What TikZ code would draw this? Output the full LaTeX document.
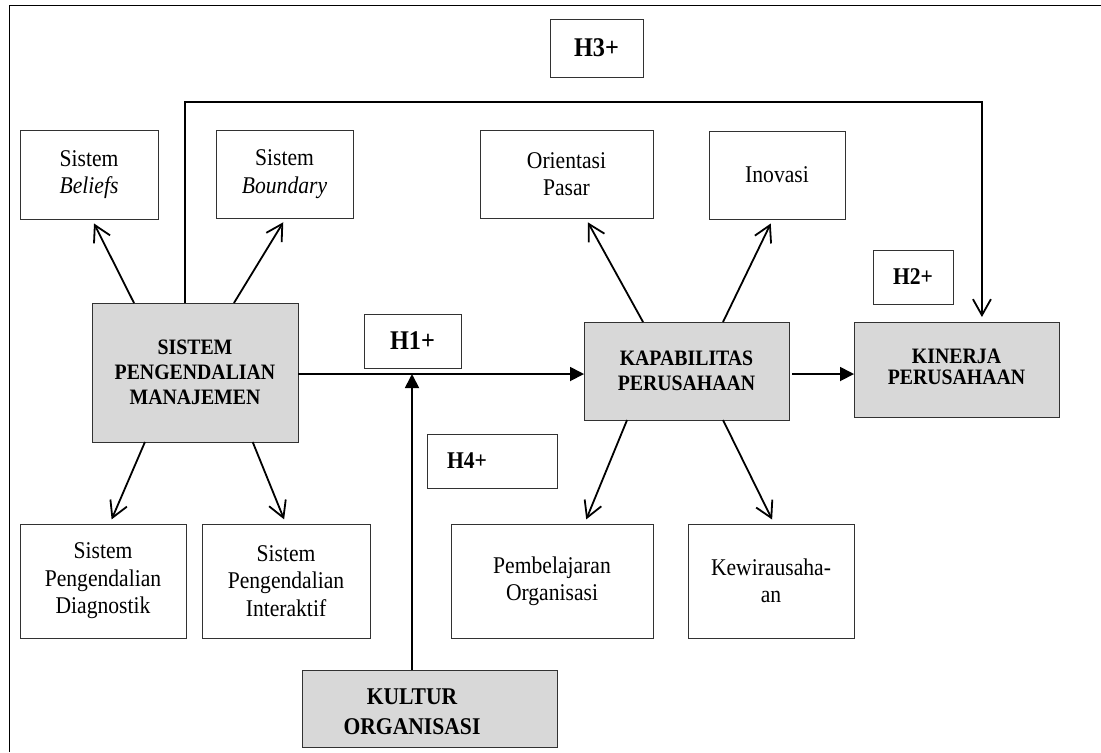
\documentclass[tikz,border=0pt]{standalone}
\usepackage{fontspec}
\setmainfont{Liberation Serif}[FakeStretch=0.9]
\usetikzlibrary{arrows.meta,calc}
\definecolor{boxfill}{RGB}{216,216,216}
\definecolor{boxline}{RGB}{50,50,50}
\tikzset{
  sz/.style 2 args={minimum width=#1*0.5pt, minimum height=#2*0.5pt},
  plainbox/.style={draw=boxline, line width=0.5pt, fill=white, inner sep=0pt,
    outer sep=0pt, align=center, font=\fontsize{12}{13.75}\selectfont},
  keybox/.style={plainbox, fill=boxfill, font=\fontsize{11}{12.5}\selectfont\bfseries},
  hypbox/.style={plainbox, font=\fontsize{12}{14}\selectfont\bfseries},
  bighyp/.style={hypbox, font=\fontsize{13.5}{15}\selectfont\bfseries},
  keytext/.style={inner sep=0pt, align=center, font=\fontsize{12}{15}\selectfont\bfseries},
  hyptext/.style={inner sep=0pt, align=center, font=\fontsize{12}{14}\selectfont\bfseries},
  openarrow/.style={-{Straight Barb[length=8pt,width=9pt]}, line width=0.9pt, shorten >=2.5pt},
  solidarrow/.style={-{Triangle[length=7pt,width=7pt]}, line width=0.9pt},
}
\begin{document}
\begin{tikzpicture}[x=0.5pt,y=-0.5pt]
\useasboundingbox (0,0) rectangle (1101,752);
% frame
\draw[line width=0.5pt] (9,752) -- (9,5) -- (1101,5);

% upper indicator boxes
\node[plainbox, sz={138}{89}] (bel) at (89,174.5) {Sistem\\\textit{Beliefs}};
\node[plainbox, sz={137}{88}] (bnd) at (284.5,174) {Sistem\\\textit{Boundary}};
\node[plainbox, sz={173}{88}] (ori) at (566.5,174) {Orientasi\\Pasar};
\node[plainbox, sz={136}{88}] (ino) at (777,175) {Inovasi};

% hypothesis labels
\node[bighyp, sz={93}{58}] (h3) at (596.5,48) {H3+};
\node[hypbox, sz={80}{54}] (h2) at (913,277) {H2+};
\node[bighyp, sz={97}{54}] (h1) at (412.5,341) {H1+};
\node[hypbox, sz={130}{54}] (h4) at (492,461) {};
\node[hyptext] (h4txt) at (467,461) {H4+};

% main constructs
\node[keybox, sz={206}{139}] (spm) at (195,372.5) {SISTEM\\PENGENDALIAN\\MANAJEMEN};
\node[keybox, sz={205}{98}] (kap) at (686.5,371) {KAPABILITAS\\PERUSAHAAN};
\node[keybox, sz={205}{95}] (kin) at (956.5,369.5) {\raisebox{2.5pt}{\shortstack{KINERJA\\PERUSAHAAN}}};
\node[keybox, sz={255}{77}] (kul) at (429.5,708.5) {};
\node[keytext] (kultxt) at (412,712) {KULTUR\\ORGANISASI};

% lower indicator boxes
\node[plainbox, sz={166}{114}] (dia) at (103,581) {Sistem\\Pengendalian\\Diagnostik};
\node[plainbox, sz={168}{114}] (int) at (286,581) {Sistem\\Pengendalian\\Interaktif};
\node[plainbox, sz={202}{114}] (pem) at (552,581) {Pembelajaran\\Organisasi};
\node[plainbox, sz={166}{114}] (kew) at (771,581) {Kewirausaha-\\an};

% indicator arrows
\draw[openarrow] ($(spm.north west)!0.204!(spm.north east)$) -- ($(bel.south west)!0.52!(bel.south east)$);
\draw[openarrow] ($(spm.north west)!0.689!(spm.north east)$) -- ($(bnd.south west)!0.51!(bnd.south east)$);
\draw[openarrow] ($(spm.south west)!0.257!(spm.south east)$) -- ($(dia.north west)!0.54!(dia.north east)$);
\draw[openarrow] ($(spm.south west)!0.78!(spm.south east)$) -- (int.north);
\draw[openarrow] ($(kap.north west)!0.288!(kap.north east)$) -- ($(ori.south west)!0.61!(ori.south east)$);
\draw[openarrow] ($(kap.north west)!0.678!(kap.north east)$) -- ($(ino.south west)!0.47!(ino.south east)$);
\draw[openarrow] ($(kap.south west)!0.21!(kap.south east)$) -- ($(pem.north west)!0.66!(pem.north east)$);
\draw[openarrow] ($(kap.south west)!0.678!(kap.south east)$) -- ($(kew.north west)!0.52!(kew.north east)$);

% structural paths
\coordinate (axis) at (0,374);
\coordinate (toprail) at (0,102);
\coordinate (h3start) at ($(spm.north west)!0.451!(spm.north east)$);
\coordinate (h3end) at ($(kin.north west)!0.624!(kin.north east)$);
\draw[solidarrow] (spm.east |- axis) -- (kap.west |- axis);
\draw[solidarrow] ($(kap.east |- axis)+(3,0)$) -- (kin.west |- axis);
\draw[solidarrow] (kultxt |- kul.north) -- (kultxt |- axis);
\draw[openarrow] (h3start) -- (h3start |- toprail) -- (h3end |- toprail) -- (h3end);
\end{tikzpicture}
\end{document}
